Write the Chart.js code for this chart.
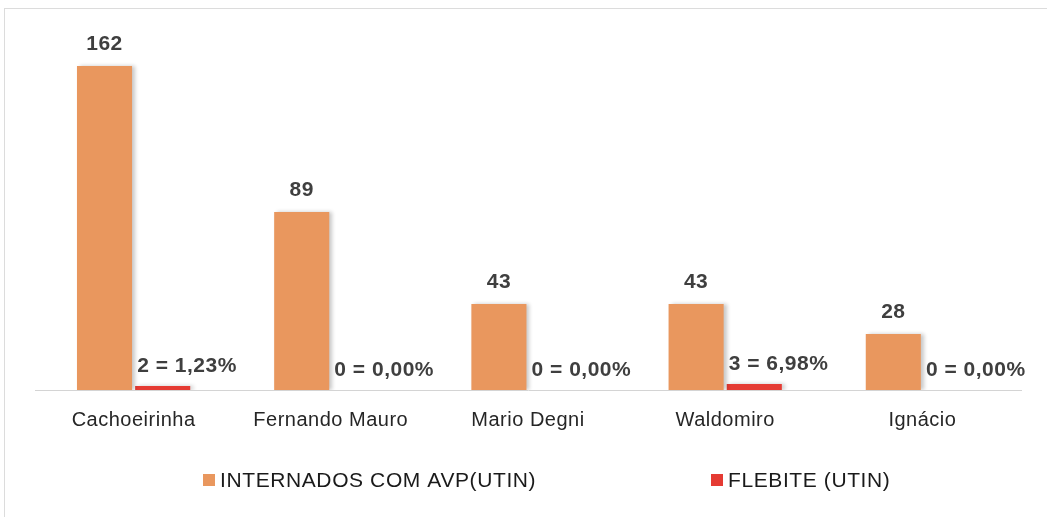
<!DOCTYPE html>
<html>
<head>
<meta charset="utf-8">
<script src="https://cdn.jsdelivr.net/npm/chart.js@4.4.1/dist/chart.umd.min.js"></script>
<style>
  html, body { margin: 0; padding: 0; background: #fff; }
  #wrap { position: relative; width: 1047px; height: 517px; }
  #frame { position: absolute; left: 4px; top: 8px; width: 1046px; height: 520px; border: 1px solid #dcdcdc; box-sizing: border-box; pointer-events: none; }
  canvas { position: absolute; left: 0; top: 0; }
</style>
</head>
<body>
<div id="wrap">
  <div id="frame"></div>
  <canvas id="c" width="1047" height="517"></canvas>
</div>
<script>
const categories = ["Cachoeirinha", "Fernando Mauro", "Mario Degni", "Waldomiro", "Ignácio"];
const internados = [162, 89, 43, 43, 28];
const flebite = [2, 0, 0, 3, 0];
const flebitePct = ["1,23%", "0,00%", "0,00%", "6,98%", "0,00%"];
const seriesNames = ["INTERNADOS COM AVP(UTIN)", "FLEBITE (UTIN)"];

const ORANGE = "#E9975E";
const RED = "#E53B33";
const FONT = "'Liberation Sans', Arial, sans-serif";

const spacingPlugin = {
  id: "spacing",
  beforeDraw(chart) {
    chart.ctx.letterSpacing = "0.5px";
  }
};

const shadowPlugin = {
  id: "barShadow",
  beforeDatasetsDraw(chart) {
    const ctx = chart.ctx;
    ctx.save();
    ctx.shadowColor = "rgba(0,0,0,0.22)";
    ctx.shadowBlur = 4;
    ctx.shadowOffsetX = 3;
    ctx.shadowOffsetY = 0;
  },
  afterDatasetsDraw(chart) {
    chart.ctx.restore();
  }
};

const labelPlugin = {
  id: "valueLabels",
  afterDatasetsDraw(chart) {
    const ctx = chart.ctx;
    ctx.save();
    ctx.letterSpacing = "0.5px";
    ctx.fillStyle = "#3f3f3f";
    ctx.font = "bold 21px " + FONT;
    ctx.textBaseline = "middle";
    const m0 = chart.getDatasetMeta(0);
    m0.data.forEach((el, i) => {
      ctx.textAlign = "center";
      ctx.fillText(String(internados[i]), el.x, el.y - 22);
    });
    const m1 = chart.getDatasetMeta(1);
    m1.data.forEach((el, i) => {
      ctx.textAlign = "left";
      ctx.fillText(flebite[i] + " = " + flebitePct[i], el.x - el.width / 2 + 2, el.y - 20);
    });
    ctx.restore();
  }
};

const legendPlugin = {
  id: "customLegend",
  afterDraw(chart) {
    const ctx = chart.ctx;
    ctx.save();
    ctx.letterSpacing = "0.6px";
    ctx.font = "21px " + FONT;
    ctx.textBaseline = "middle";
    ctx.textAlign = "left";
    const y = 481;
    const items = [
      { name: seriesNames[0], color: ORANGE, x: 203 },
      { name: seriesNames[1], color: RED, x: 711 }
    ];
    items.forEach(it => {
      ctx.fillStyle = it.color;
      ctx.fillRect(it.x, y - 7, 12, 12);
      ctx.fillStyle = "#1a1a1a";
      ctx.fillText(it.name, it.x + 17, y);
    });
    ctx.restore();
  }
};

new Chart(document.getElementById("c"), {
  type: "bar",
  data: {
    labels: categories,
    datasets: [
      { label: seriesNames[0], data: internados, backgroundColor: ORANGE, categoryPercentage: 0.59, barPercentage: 0.947 },
      { label: seriesNames[1], data: flebite, backgroundColor: RED, categoryPercentage: 0.59, barPercentage: 0.947 }
    ]
  },
  options: {
    responsive: false,
    animation: false,
    devicePixelRatio: 1,
    layout: { padding: { left: 35, right: 26, top: 30, bottom: 67 } },
    plugins: {
      legend: { display: false },
      tooltip: { enabled: false }
    },
    scales: {
      x: {
        grid: { display: true, drawOnChartArea: false, drawTicks: false, color: "transparent" },
        border: { display: true, color: "#d4d4d4", width: 1 },
        ticks: { color: "#262626", font: { family: FONT, size: 20 }, padding: 18 }
      },
      y: {
        display: false,
        min: 0,
        max: 180
      }
    }
  },
  plugins: [spacingPlugin, shadowPlugin, labelPlugin, legendPlugin]
});
</script>
</body>
</html>
